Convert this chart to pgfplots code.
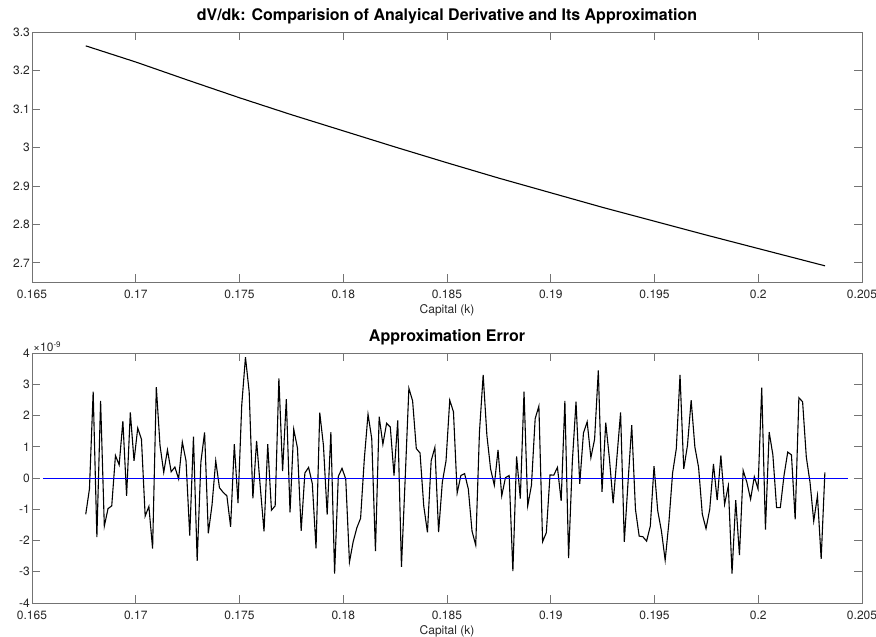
\documentclass[border=0pt]{standalone}
\usepackage{fontspec}
\setmainfont{TeX Gyre Heros}
\usepackage{pgfplots}
\pgfplotsset{compat=1.18}
\usepackage{pgfplotstable}

\newcommand{\tickfont}{\fontsize{12}{14}\selectfont}
\pgfplotsset{mlab/.style={scale only axis, width=830pt, height=250pt,
  axis line style={black!55, line width=0.6pt}, tick style={black!55, line width=0.6pt},
  major tick length=8pt, tick align=inside,
  /pgf/number format/assume math mode=true,
  tick label style={font=\tickfont, text=black!85},
  label style={font=\tickfont, text=black!85},
  title style={font=\bfseries\fontsize{16}{18}\selectfont, inner sep=2pt},
  xmin=0.165, xmax=0.205,
  xtick={0.165,0.17,0.175,0.18,0.185,0.19,0.195,0.2,0.205},
  xticklabels={0.165,0.17,0.175,0.18,0.185,0.19,0.195,0.2,0.205},
  xticklabel style={yshift=-4pt},
  xlabel={Capital (k)}, xlabel style={yshift=1pt},
  yticklabel style={inner sep=2pt}}}

% approximation error, in units of 1e-9
\pgfplotstableread{
x y
0.167590 -1.16
0.167769 -0.35
0.167948 2.76
0.168127 -1.89
0.168306 2.47
0.168485 -1.54
0.168664 -0.98
0.168843 -0.89
0.169022 0.72
0.169201 0.42
0.169380 1.82
0.169559 -0.57
0.169738 2.10
0.169917 0.55
0.170096 1.60
0.170275 1.24
0.170454 -1.22
0.170633 -0.91
0.170812 -2.26
0.170991 2.91
0.171170 1.04
0.171349 0.18
0.171528 0.90
0.171707 0.20
0.171886 0.35
0.172065 -0.03
0.172244 1.15
0.172423 0.55
0.172602 -1.84
0.172781 1.32
0.172960 -2.65
0.173139 0.51
0.173318 1.46
0.173497 -1.77
0.173676 -0.86
0.173855 0.55
0.174034 -0.31
0.174213 -0.46
0.174392 -0.57
0.174571 -1.56
0.174750 1.08
0.174929 -0.80
0.175108 2.33
0.175287 3.87
0.175466 2.76
0.175645 -0.65
0.175824 1.19
0.176003 -0.30
0.176182 -1.71
0.176361 1.08
0.176540 -1.03
0.176719 -0.89
0.176898 3.19
0.177077 0.22
0.177256 2.52
0.177435 -1.10
0.177614 1.56
0.177793 0.96
0.177972 -1.69
0.178151 0.16
0.178330 0.34
0.178509 -0.18
0.178688 -2.25
0.178867 2.09
0.179046 1.04
0.179225 -1.17
0.179404 1.47
0.179583 -3.06
0.179762 0.05
0.179941 0.31
0.180120 -0.03
0.180299 -2.69
0.180478 -2.04
0.180657 -1.59
0.180836 -1.29
0.181015 0.61
0.181194 2.04
0.181373 1.26
0.181552 -2.34
0.181731 1.96
0.181910 1.08
0.182089 1.75
0.182268 1.63
0.182447 0.08
0.182626 1.84
0.182805 -2.84
0.182984 -0.03
0.183163 2.87
0.183342 2.47
0.183521 0.94
0.183700 0.80
0.183879 -0.89
0.184058 -1.74
0.184237 0.55
0.184416 0.98
0.184595 -1.73
0.184774 -0.14
0.184953 0.55
0.185132 2.49
0.185311 2.12
0.185490 -0.48
0.185669 0.08
0.185848 0.14
0.186027 -0.35
0.186206 -1.70
0.186385 -2.15
0.186564 1.47
0.186743 3.30
0.186922 1.37
0.187101 0.29
0.187280 -0.23
0.187459 0.90
0.187638 -0.57
0.187817 0.01
0.187996 0.08
0.188175 -2.98
0.188354 0.69
0.188533 -0.66
0.188712 2.76
0.188891 -0.89
0.189070 -0.23
0.189249 1.90
0.189428 2.30
0.189607 -2.04
0.189786 -1.75
0.189965 0.10
0.190144 0.09
0.190323 0.34
0.190502 -0.73
0.190681 2.47
0.190860 -2.56
0.191039 0.51
0.191218 2.44
0.191397 -0.19
0.191576 1.44
0.191755 1.80
0.191934 0.65
0.192113 1.24
0.192292 3.44
0.192471 -0.44
0.192650 1.77
0.192829 0.61
0.193008 -0.81
0.193187 0.65
0.193366 2.10
0.193545 -2.04
0.193724 -0.14
0.193903 1.69
0.194082 -1.00
0.194261 -1.86
0.194440 -1.88
0.194619 -2.02
0.194798 -1.54
0.194977 0.38
0.195156 -1.05
0.195335 -1.70
0.195514 -2.63
0.195693 -1.43
0.195872 0.16
0.196051 0.94
0.196230 3.30
0.196409 0.29
0.196588 1.04
0.196767 2.49
0.196946 0.99
0.197125 0.34
0.197304 -1.16
0.197483 -1.62
0.197662 -1.00
0.197841 0.45
0.198020 -0.71
0.198199 0.72
0.198378 -0.84
0.198557 -0.25
0.198736 -3.06
0.198915 -0.71
0.199094 -2.47
0.199273 0.24
0.199452 -0.14
0.199631 -0.68
0.199810 0.04
0.199989 -0.35
0.200168 2.89
0.200347 -1.65
0.200526 1.47
0.200705 0.74
0.200884 -0.95
0.201063 -0.95
0.201242 0.08
0.201421 0.83
0.201600 0.74
0.201779 -1.32
0.201958 2.57
0.202137 2.44
0.202316 0.67
0.202495 -0.14
0.202674 -1.38
0.202853 -0.57
0.203032 -2.59
0.203211 0.18
}\errtable

\begin{document}
\begin{tikzpicture}
\path[use as bounding box] (-32pt,32pt) rectangle (844pt,-605pt);
\begin{axis}[mlab, at={(0pt,0pt)}, anchor=north west,
  title={dV/dk: Comparision of Analyical Derivative and Its Approximation},
  ymin=2.65, ymax=3.3,
  ytick={2.7,2.8,2.9,3,3.1,3.2,3.3},
  yticklabels={2.7,2.8,2.9,3,3.1,3.2,3.3}]
\addplot[black, line width=1.1pt] coordinates {
  (0.16759,3.264) (0.170,3.222) (0.1725,3.175) (0.175,3.129) (0.1775,3.085)
  (0.180,3.043) (0.1825,3.001) (0.185,2.960) (0.1875,2.920) (0.190,2.882)
  (0.1925,2.844) (0.195,2.808) (0.1975,2.772) (0.200,2.737) (0.20322,2.692)};
\end{axis}
\begin{axis}[mlab, name=err, at={(0pt,-321pt)}, anchor=north west,
  title={Approximation Error},
  ymin=-4, ymax=4,
  ytick={-4,-3,-2,-1,0,1,2,3,4},
  yticklabels={-4,-3,-2,-1,0,1,2,3,4}]
\addplot[black, line width=1.1pt] table[x=x, y=y] {\errtable};
\addplot[blue, line width=0.6pt] coordinates {(0.16552,0) (0.20434,0)};
\end{axis}
\node[anchor=south west, inner sep=1pt, font=\tickfont, text=black!85] at (err.north west) {×10\textsuperscript{-9}};
\end{tikzpicture}
\end{document}
